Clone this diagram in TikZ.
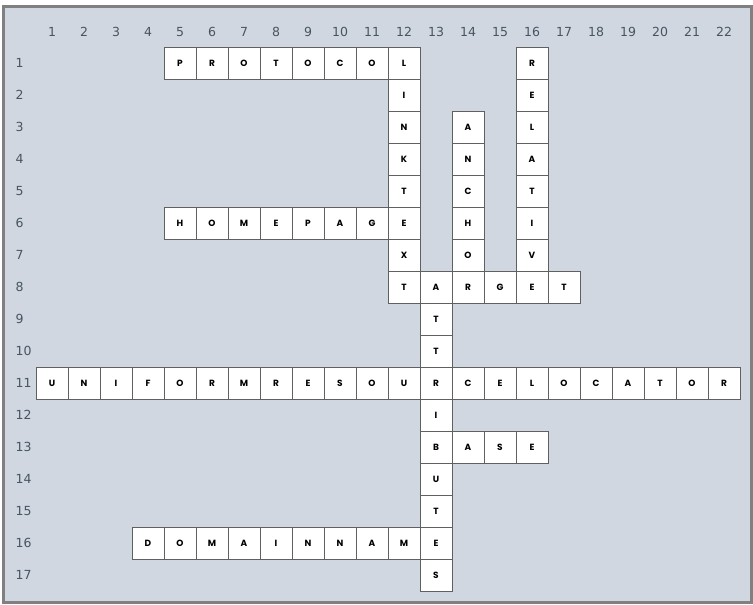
\documentclass[tikz,border=0pt]{standalone}
\usepackage{fontspec}
\setmainfont{Poppins}
\newfontfamily\numfont{DejaVu Sans}
\definecolor{bg}{RGB}{208,215,224}
\definecolor{frame}{RGB}{128,128,128}
\definecolor{cellline}{RGB}{96,96,96}
\definecolor{numc}{RGB}{72,84,98}
\tikzset{
  cell/.style={draw=cellline, line width=0.9pt, fill=white, minimum size=32pt, inner sep=0pt, font=\fontsize{9}{10}\selectfont\bfseries, text=black},
  numlab/.style={font=\numfont\fontsize{12.5}{14}\selectfont, text=numc, inner sep=0pt}
}
\newcommand\acrossword[3]{%
  \foreach \l [count=\i from 0] in {#3} {%
    \pgfmathtruncatemacro\cc{#1+\i}%
    \node[cell] (c\cc-#2) at ({20+32*\cc},{31+32*#2}) {\l};}}
\newcommand\downword[3]{%
  \foreach \l [count=\i from 0] in {#3} {%
    \pgfmathtruncatemacro\rr{#2+\i}%
    \node[cell] (c#1-\rr) at ({20+32*#1},{31+32*\rr}) {\l};}}
\begin{document}
\begin{tikzpicture}[x=1pt,y=-1pt]
\useasboundingbox (0,0) rectangle (753,605);
\draw[frame, line width=3pt, fill=bg] (3.5,6.5) rectangle (751,602.5);
\foreach \c in {1,...,22} \node[numlab, anchor=base] (col\c) at ({20+32*\c},36) {\c};
\foreach \r in {1,...,17} \node[numlab, anchor=base west] (row\r) at (15.5,{35.5+32*\r}) {\r};
\acrossword{5}{1}{P,R,O,T,O,C,O,L}
\downword{12}{1}{L,I,N,K,T,E,X,T}
\acrossword{5}{6}{H,O,M,E,P,A,G,E}
\downword{14}{3}{A,N,C,H,O,R}
\downword{16}{1}{R,E,L,A,T,I,V,E}
\acrossword{12}{8}{T,A,R,G,E,T}
\downword{13}{8}{A,T,T,R,I,B,U,T,E,S}
\acrossword{1}{11}{U,N,I,F,O,R,M,R,E,S,O,U,R,C,E,L,O,C,A,T,O,R}
\acrossword{13}{13}{B,A,S,E}
\acrossword{4}{16}{D,O,M,A,I,N,N,A,M,E}
\end{tikzpicture}
\end{document}
